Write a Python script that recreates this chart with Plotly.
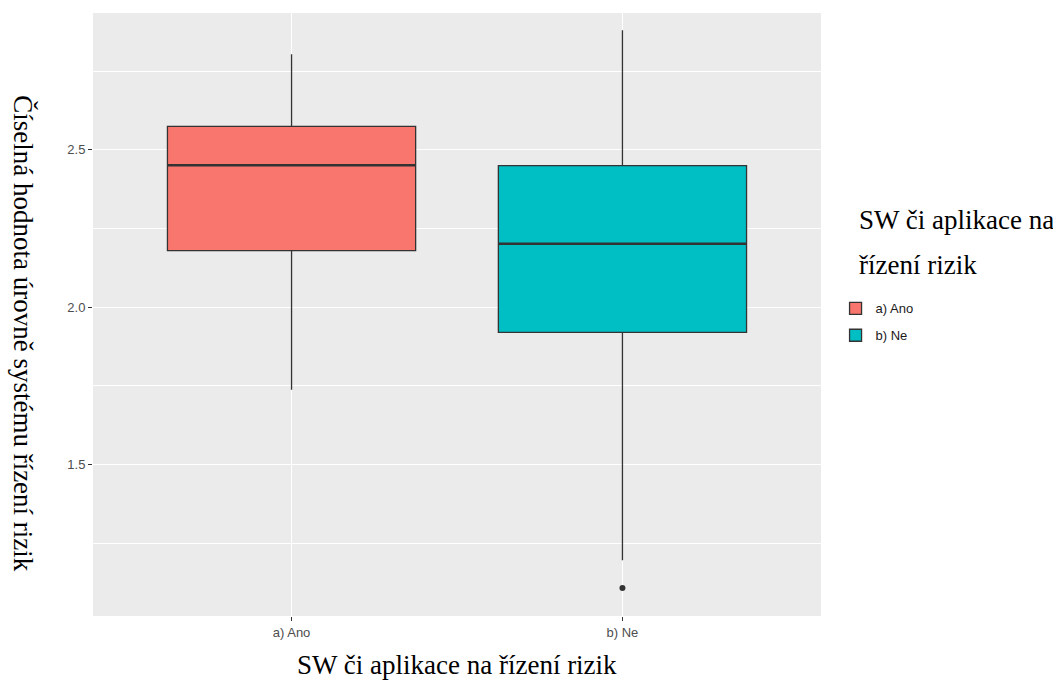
import plotly.graph_objects as go

# Group labels and five-number summaries for each group
categories = ["a) Ano", "b) Ne"]
q1 = [2.18, 1.92]
medians = [2.451, 2.202]
q3 = [2.575, 2.45]
lower_fence = [1.738, 1.196]
upper_fence = [2.804, 2.88]
outlier_cat = ["b) Ne"]
outlier_val = [1.108]
fill_colors = ["#F8766D", "#00BFC4"]

y_ticks = [1.5, 2.0, 2.5]
y_minor = [1.25, 1.75, 2.25, 2.75]

BOX_W = 0.75
LINE = "#333333"

fig = go.Figure()

for i, cat in enumerate(categories):
    fig.add_trace(go.Box(
        x=[cat],
        q1=[q1[i]], median=[medians[i]], q3=[q3[i]],
        lowerfence=[lower_fence[i]], upperfence=[upper_fence[i]],
        name=cat,
        legendgroup=cat,
        fillcolor=fill_colors[i],
        line=dict(color=LINE, width=1.3),
        width=BOX_W,
        whiskerwidth=0,
        boxpoints=False,
        hoverinfo="skip",
    ))

# Outlying observation
fig.add_trace(go.Scatter(
    x=outlier_cat, y=outlier_val, mode="markers",
    marker=dict(color=LINE, size=6),
    showlegend=False, hoverinfo="skip",
))

# Thicker median bars, as in ggplot
for i, m in enumerate(medians):
    fig.add_shape(type="line", xref="x", yref="y",
                  x0=i - BOX_W / 2, x1=i + BOX_W / 2, y0=m, y1=m,
                  line=dict(color=LINE, width=2.4), layer="above")

serif = "Liberation Serif, Times New Roman, serif"
sans = "Liberation Sans, Arial, sans-serif"
TITLE_SIZE = 27

fig.update_layout(
    width=1053, height=680,
    margin=dict(l=93, r=232, t=13, b=64),
    paper_bgcolor="white",
    plot_bgcolor="#EBEBEB",
    showlegend=True,
    legend=dict(
        x=1.02, xanchor="left",
        y=0.535, yanchor="top",
        font=dict(family=sans, size=13, color="#1A1A1A"),
        bgcolor="rgba(0,0,0,0)",
        tracegroupgap=7,
        itemwidth=30,
    ),
    xaxis=dict(
        type="category",
        categoryorder="array", categoryarray=categories,
        range=[-0.6, 1.6],
        showgrid=True, gridcolor="white", gridwidth=1.2,
        zeroline=False,
        ticks="outside", ticklen=4, tickcolor=LINE, tickwidth=1,
        tickfont=dict(family=sans, size=13, color="#4D4D4D"),
        showline=False,
    ),
    yaxis=dict(
        range=[1.019, 2.935],
        tickvals=y_ticks, ticktext=[f"{v:.1f}" for v in y_ticks],
        showgrid=True, gridcolor="white", gridwidth=1.2,
        zeroline=False,
        ticks="outside", ticklen=4, tickcolor=LINE, tickwidth=1,
        tickfont=dict(family=sans, size=13, color="#4D4D4D"),
        minor=dict(tickvals=y_minor, showgrid=True, gridcolor="white",
                   gridwidth=0.6, ticks=""),
        showline=False,
    ),
    annotations=[
        dict(text="SW či aplikace na řízení rizik", xref="paper", yref="paper",
             x=0.5, y=0, yshift=-49, xanchor="center", yanchor="middle",
             showarrow=False, font=dict(family=serif, size=TITLE_SIZE, color="black")),
        dict(text="Číselná hodnota úrovně systému řízení rizik",
             xref="paper", yref="paper", x=0, xshift=-70, y=0.469,
             xanchor="center", yanchor="middle", textangle=90,
             showarrow=False, font=dict(family=serif, size=TITLE_SIZE, color="black")),
        dict(text="SW či aplikace na", xref="paper", yref="paper",
             x=1.0, xshift=36, y=(615.7 - 220) / 603, xanchor="left",
             yanchor="middle", showarrow=False,
             font=dict(family=serif, size=TITLE_SIZE, color="black")),
        dict(text="řízení rizik", xref="paper", yref="paper",
             x=1.0, xshift=36, y=(615.7 - 265) / 603, xanchor="left",
             yanchor="middle", showarrow=False,
             font=dict(family=serif, size=TITLE_SIZE, color="black")),
    ],
)

fig.write_html("out.html")
